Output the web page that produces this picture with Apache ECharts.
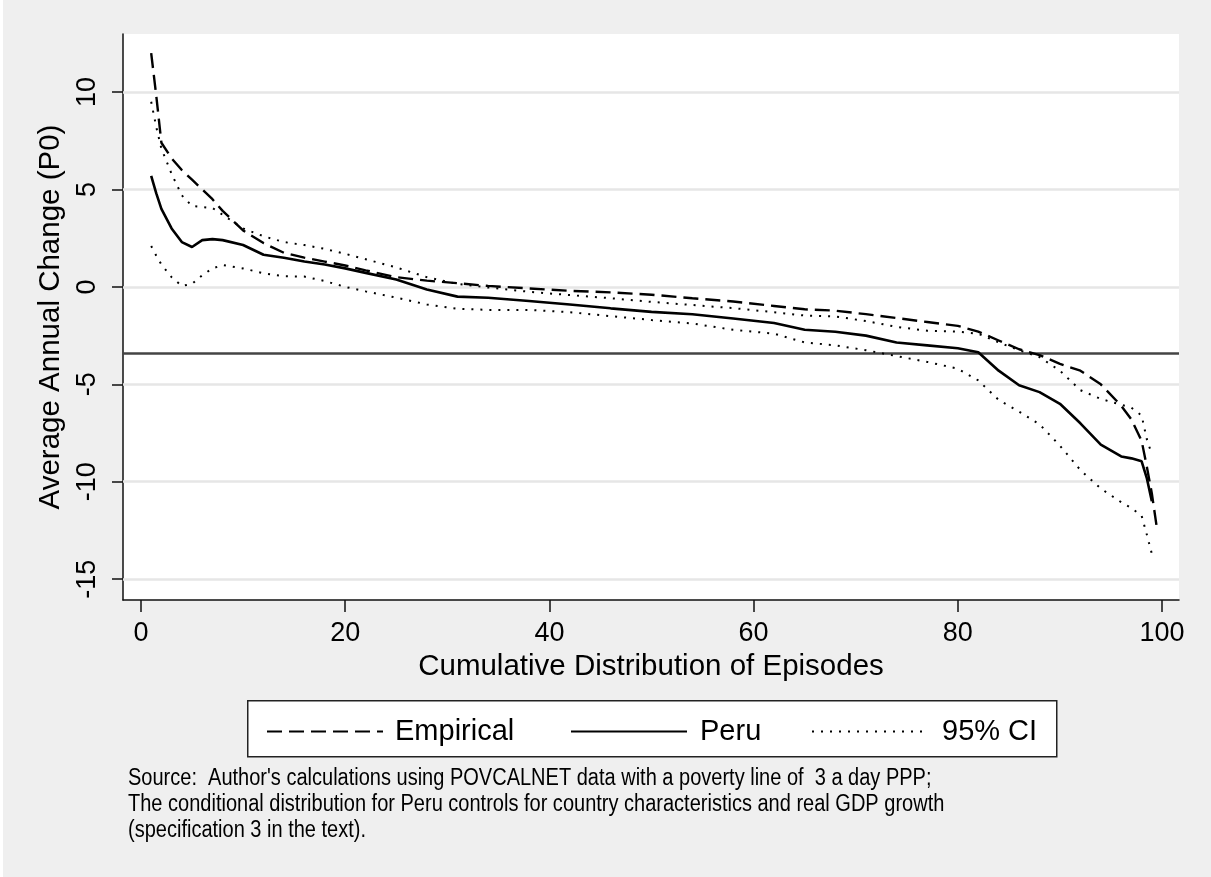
<!DOCTYPE html>
<html><head><meta charset="utf-8">
<script src="https://cdn.jsdelivr.net/npm/echarts@6/dist/echarts.min.js"></script>
<style>html,body{margin:0;padding:0;background:#efefef;}#c{width:1211px;height:877px;}</style>
</head><body><div id="c"></div>
<script>
const xs = [1, 1.5, 2, 3, 4, 5, 6, 7, 8, 10, 12, 14, 16, 18, 20, 22, 25, 28, 31, 34, 38, 42, 46, 50, 54, 58, 62, 65, 68, 71, 74, 77, 80, 82, 84, 86, 88, 90, 92, 94, 96, 97, 98, 98.5, 99, 99.5];
const empirical = [12.0, 9.8, 7.4, 6.6, 6.0, 5.5, 5.0, 4.5, 3.9, 2.9, 2.25, 1.75, 1.5, 1.3, 1.1, 0.85, 0.5, 0.32, 0.19, 0.05, -0.08, -0.2, -0.28, -0.4, -0.58, -0.75, -0.98, -1.15, -1.22, -1.4, -1.6, -1.8, -2.0, -2.3, -2.75, -3.2, -3.5, -3.95, -4.3, -5.0, -6.1, -6.8, -7.9, -9.2, -10.6, -12.4];
const peru = [5.7, 4.8, 4.0, 3.0, 2.3, 2.05, 2.4, 2.45, 2.4, 2.15, 1.65, 1.5, 1.3, 1.15, 0.95, 0.72, 0.38, -0.13, -0.5, -0.56, -0.72, -0.9, -1.1, -1.28, -1.4, -1.62, -1.85, -2.2, -2.3, -2.5, -2.85, -3.0, -3.15, -3.35, -4.3, -5.05, -5.4, -6.0, -7.0, -8.1, -8.7, -8.8, -8.95, -9.8, -11.0, null];
const ciUpper = [9.5, 8.2, 7.1, 5.8, 4.7, 4.15, 4.1, 4.05, 3.7, 3.0, 2.6, 2.3, 2.15, 1.95, 1.7, 1.42, 1.0, 0.5, 0.15, -0.03, -0.25, -0.42, -0.58, -0.77, -0.93, -1.09, -1.3, -1.47, -1.52, -1.75, -2.05, -2.25, -2.3, -2.4, -2.85, -3.25, -3.6, -4.3, -5.3, -5.75, -6.05, -6.2, -6.6, -7.8, -8.6, null];
const ciLower = [2.1, 1.6, 1.15, 0.5, 0.05, 0.15, 0.6, 0.95, 1.12, 0.95, 0.7, 0.55, 0.53, 0.3, 0.0, -0.23, -0.55, -0.9, -1.12, -1.18, -1.18, -1.3, -1.5, -1.7, -1.88, -2.2, -2.4, -2.85, -3.0, -3.25, -3.55, -3.85, -4.2, -4.8, -5.8, -6.4, -7.05, -8.15, -9.4, -10.35, -11.05, -11.35, -11.75, -12.7, -13.7, null];
const refLine = -3.43;
const xTicks = [0, 20, 40, 60, 80, 100];
const yTicks = [-15, -10, -5, 0, 5, 10];
const sourceLines = [
  "Source:  Author's calculations using POVCALNET data with a poverty line of  3 a day PPP;",
  "The conditional distribution for Peru controls for country characteristics and real GDP growth",
  "(specification 3 in the text)."
];

function pairs(ys){ const out=[]; xs.forEach((x,i)=>{ if(ys[i]!==null) out.push([x,ys[i]]); }); return out; }

const FONT = 'Liberation Sans, Arial, sans-serif';
const chart = echarts.init(document.getElementById('c'), null, {renderer:'canvas'});

const legendBase = (name, left, pad) => ({
  data:[name], left:left, top:712, itemWidth:116, itemHeight:14, itemGap:0,
  itemStyle:{opacity:0},
  textStyle:{fontFamily:FONT, fontSize:29, color:'#000', padding:[0,0,0,pad]},
  selectedMode:false
});

chart.setOption({
  backgroundColor:'#efefef',
  animation:false,
  grid:{left:123, right:32, top:34, bottom:277, show:true, backgroundColor:'#ffffff', borderWidth:0},
  xAxis:{
    type:'value', min:-1.76, max:101.66,
    axisLine:{show:true, onZero:false, lineStyle:{color:'#111', width:1.5}},
    axisTick:{show:true, length:12, customValues:xTicks, lineStyle:{color:'#111', width:1.5}},
    axisLabel:{customValues:xTicks, fontFamily:FONT, fontSize:27, color:'#000', margin:20},
    splitLine:{show:false},
    name:'Cumulative Distribution of Episodes', nameLocation:'middle', nameGap:51,
    nameTextStyle:{fontFamily:FONT, fontSize:29.5, color:'#000'}
  },
  yAxis:{
    type:'value', min:-16.07, max:12.98,
    axisLine:{show:true, onZero:false, lineStyle:{color:'#111', width:1.5}},
    axisTick:{show:true, length:11, customValues:yTicks, lineStyle:{color:'#111', width:1.5}},
    axisLabel:{customValues:yTicks, fontFamily:FONT, fontSize:27, color:'#000', rotate:90, margin:22},
    splitLine:{show:false},
    name:'Average Annual Change (P0)', nameLocation:'middle', nameGap:57, nameRotate:90,
    nameTextStyle:{fontFamily:FONT, fontSize:29.5, color:'#000'}
  },
  legend:[legendBase('Empirical',261,7), legendBase('Peru',565,8), legendBase('95% CI',806,9)],
  graphic:[
    {type:'rect', left:0, top:0, shape:{width:3, height:877}, style:{fill:'#ffffff'}, z:-1},
    {type:'rect', left:247, top:700, z:0, shape:{width:809, height:56}, style:{fill:'#ffffff', stroke:'#222', lineWidth:1.5}},
    {type:'text', x:128, y:766, scaleX:0.87, z:5, style:{text:sourceLines.join('\n'), fontFamily:FONT, fontSize:23, lineHeight:26, fill:'#000'}}
  ],
  series:[
    {name:'grid', type:'line', data:[], silent:true,
      markLine:{symbol:'none', silent:true, label:{show:false}, animation:false,
        lineStyle:{color:'#e6e6e6', width:2.5, type:'solid'},
        data: yTicks.map(v=>({yAxis:v}))}, z:1},
    {name:'Empirical', type:'line', data:pairs(empirical), showSymbol:false, symbol:'none', z:5,
      lineStyle:{color:'#000', width:2.4, type:[15,7]}, itemStyle:{color:'#000'},
      markLine:{symbol:'none', silent:true, label:{show:false}, lineStyle:{color:'#444', width:2.5, type:'solid'}, data:[{yAxis:refLine}]}},
    {name:'Peru', type:'line', data:pairs(peru), showSymbol:false, symbol:'none', z:5,
      lineStyle:{color:'#000', width:2.6, type:'solid'}, itemStyle:{color:'#000'}},
    {name:'95% CI', type:'line', data:pairs(ciUpper), showSymbol:false, symbol:'none', z:5,
      lineStyle:{color:'#000', width:2, type:[2,7]}, itemStyle:{color:'#000'}},
    {name:'95% CI', type:'line', data:pairs(ciLower), showSymbol:false, symbol:'none', z:5,
      lineStyle:{color:'#000', width:2, type:[2,7]}, itemStyle:{color:'#000'}}
  ]
});
</script></body></html>
